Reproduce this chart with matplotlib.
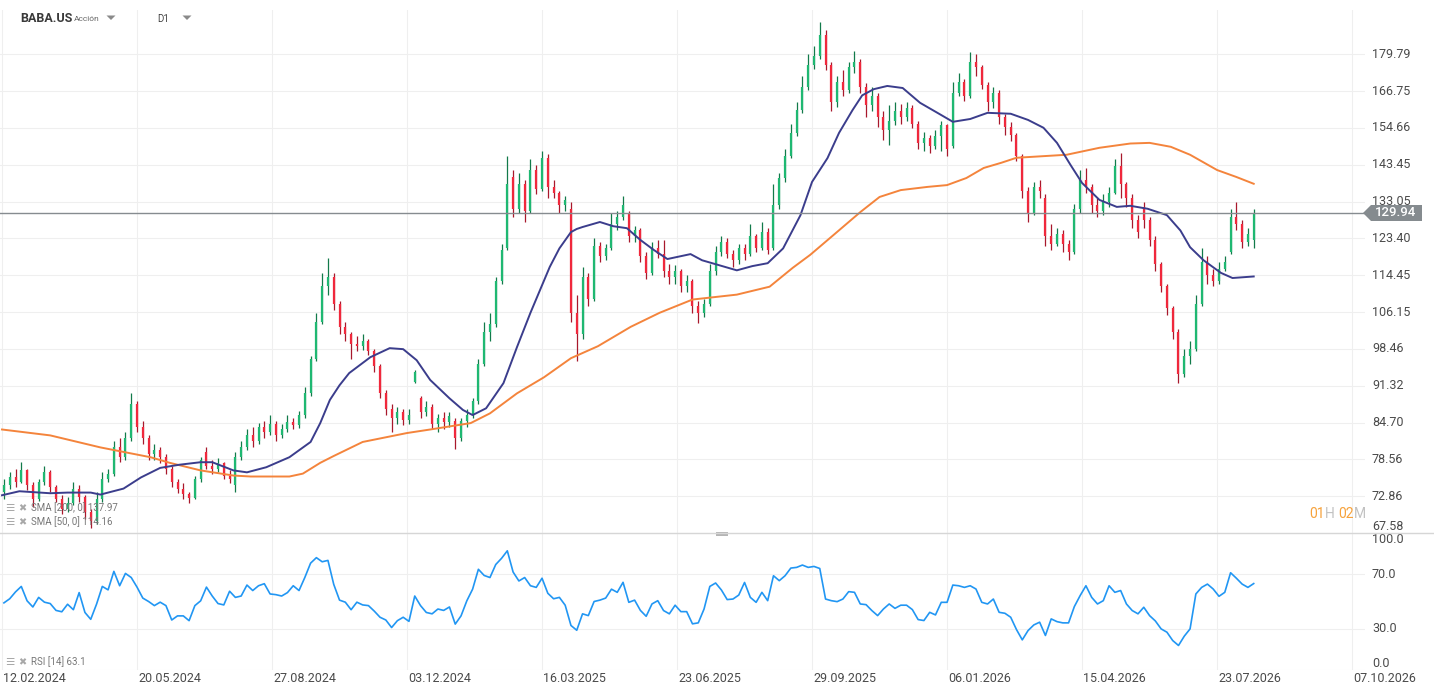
import matplotlib
matplotlib.use('Agg')
import matplotlib.pyplot as plt
import matplotlib.transforms as mtransforms
from matplotlib.patches import Polygon, Rectangle
from matplotlib.ticker import NullLocator
import numpy as np

plt.rcParams['font.family'] = ['Roboto', 'DejaVu Sans']

# candles (one per 3 trading days)
opens = [73.5, 74.5, 75.8, 75.0, 76.8, 74.5, 72.5, 75.0, 76.5, 74.2,
         72.5, 71.0, 71.8, 74.0, 72.8, 70.5, 69.2, 72.5, 75.5, 76.2,
         80.5, 79.0, 82.0, 88.0, 84.0, 82.0, 79.5, 80.0, 79.0, 77.0,
         75.0, 74.0, 73.2, 72.6, 75.5, 79.8, 77.5, 77.0, 78.0, 76.0,
         74.5, 79.0, 80.5, 82.5, 81.5, 84.0, 83.0, 84.5, 82.5, 83.5,
         84.8, 84.2, 86.0, 90.0, 96.5, 104.0, 112.0, 114.0, 108.0, 103.0,
         101.5, 99.5, 99.0, 100.0, 98.0, 95.0, 90.0, 87.0, 85.5, 86.5,
         85.2, 92.0, 89.0, 86.5, 87.5, 84.5, 85.5, 84.8, 85.0, 82.0,
         85.0, 86.0, 88.5, 95.5, 102.0, 103.5, 113.0, 121.0, 140.0, 131.0,
         138.0, 130.5, 142.0, 136.5, 145.5, 137.0, 135.5, 132.0, 131.0, 106.0,
         101.5, 114.0, 109.0, 121.5, 119.0, 121.0, 127.0, 129.0, 130.0, 124.0,
         125.5, 119.0, 115.0, 121.0, 119.5, 115.5, 114.0, 115.5, 112.0, 113.0,
         107.5, 106.0, 108.0, 115.5, 120.0, 122.5, 119.5, 118.0, 121.0, 119.5,
         124.0, 121.0, 125.0, 121.0, 132.0, 139.5, 146.0, 153.0, 160.5, 168.0,
         176.0, 179.0, 187.0, 176.0, 163.0, 170.0, 167.0, 175.0, 177.0, 168.0,
         162.0, 165.0, 158.0, 154.0, 157.0, 160.0, 158.0, 161.0, 156.0, 150.0,
         151.5, 149.0, 152.0, 155.5, 149.0, 166.0, 170.0, 165.0, 177.0, 175.0,
         169.0, 163.0, 166.0, 158.0, 155.0, 152.5, 146.0, 136.0, 130.0, 137.0,
         134.0, 124.0, 122.0, 124.5, 122.0, 120.0, 131.0, 139.0, 137.0, 132.0,
         130.5, 133.0, 135.5, 143.0, 138.0, 134.0, 128.0, 131.5, 128.0, 123.0,
         117.0, 112.0, 107.0, 102.0, 93.5, 97.0, 98.5, 108.0, 117.5, 114.5,
         113.0, 116.0, 120.0, 129.0, 127.0, 122.5, 123.0]
highs = [75.5, 76.5, 77.0, 78.2, 77.0, 75.0, 75.5, 77.5, 76.8, 74.5,
         73.0, 72.8, 75.0, 74.5, 73.0, 71.0, 73.5, 76.5, 77.0, 81.5,
         82.0, 83.0, 90.0, 88.5, 85.0, 82.5, 81.0, 80.5, 79.5, 77.5,
         75.5, 74.8, 73.5, 76.0, 79.0, 80.5, 78.5, 78.8, 78.2, 76.8,
         79.8, 81.5, 83.5, 84.0, 84.6, 85.0, 86.0, 85.0, 84.5, 86.0,
         85.5, 86.8, 91.0, 97.0, 106.0, 115.0, 118.5, 115.0, 108.5, 104.0,
         102.0, 101.0, 101.5, 100.5, 98.5, 95.5, 90.5, 88.0, 87.5, 87.0,
         87.0, 94.3, 89.5, 88.5, 88.0, 86.2, 86.5, 86.5, 85.5, 85.5,
         87.0, 89.0, 96.5, 104.0, 106.0, 114.0, 122.0, 146.0, 142.0, 141.0,
         139.0, 145.0, 143.5, 147.5, 146.5, 139.0, 136.0, 134.5, 133.0, 110.0,
         116.5, 115.0, 123.5, 122.5, 122.0, 130.0, 130.5, 134.5, 130.5, 126.5,
         126.0, 120.0, 122.5, 123.0, 123.0, 117.0, 116.8, 116.0, 114.5, 113.5,
         108.5, 109.0, 117.0, 121.5, 124.0, 123.5, 120.5, 122.0, 122.0, 127.0,
         124.5, 127.5, 126.0, 138.0, 141.0, 148.0, 156.0, 163.0, 172.0, 180.0,
         183.0, 192.0, 189.0, 177.0, 172.0, 174.0, 177.0, 181.0, 178.0, 169.5,
         168.0, 166.0, 160.0, 162.0, 163.0, 162.5, 163.0, 162.0, 157.0, 153.5,
         152.5, 154.0, 157.0, 156.0, 170.0, 173.0, 171.0, 180.5, 180.0, 176.0,
         170.0, 168.0, 167.0, 159.0, 156.5, 153.0, 146.5, 137.0, 138.5, 139.0,
         135.0, 127.0, 126.0, 125.5, 123.0, 132.5, 142.0, 142.5, 138.0, 134.0,
         135.0, 137.0, 145.0, 147.0, 138.5, 135.0, 129.5, 133.0, 129.0, 124.0,
         117.5, 112.5, 107.5, 102.5, 98.5, 100.0, 110.0, 121.0, 119.0, 116.0,
         117.5, 119.0, 131.0, 133.0, 128.0, 126.0, 131.0]
lows = [72.5, 74.0, 74.2, 74.8, 73.8, 71.2, 72.2, 74.5, 73.5, 72.0,
        70.2, 70.5, 71.5, 72.0, 69.5, 68.3, 68.8, 72.0, 75.0, 76.0,
        78.2, 78.5, 81.5, 83.0, 81.0, 78.5, 78.5, 78.0, 76.3, 74.2,
        73.3, 72.5, 71.8, 72.5, 75.0, 77.0, 76.2, 76.5, 75.5, 74.8,
        73.5, 78.5, 80.0, 80.5, 81.0, 82.0, 82.5, 81.5, 82.0, 83.0,
        83.5, 83.8, 85.5, 89.5, 96.0, 103.5, 110.0, 106.5, 101.5, 100.0,
        96.5, 98.0, 98.2, 97.3, 94.0, 89.0, 86.0, 83.0, 84.5, 84.2,
        84.5, 91.8, 85.5, 85.8, 83.5, 83.0, 83.5, 84.0, 80.3, 81.5,
        84.0, 85.5, 88.0, 95.0, 100.0, 103.0, 112.5, 120.5, 129.0, 130.0,
        127.5, 130.0, 135.0, 136.0, 134.0, 134.0, 130.0, 130.5, 104.0, 96.0,
        100.5, 107.5, 108.5, 117.5, 118.0, 120.5, 125.5, 128.0, 122.5, 122.5,
        117.5, 113.5, 114.5, 118.5, 114.0, 112.5, 112.5, 110.5, 110.5, 106.0,
        103.8, 105.0, 107.5, 114.5, 119.0, 118.5, 116.5, 117.0, 118.0, 119.0,
        120.0, 120.5, 119.5, 120.5, 131.0, 138.5, 145.5, 152.0, 159.5, 167.0,
        174.5, 178.0, 174.0, 160.0, 161.5, 165.0, 166.0, 173.0, 166.0, 158.0,
        160.0, 155.0, 151.0, 149.5, 155.5, 156.0, 157.0, 154.5, 148.0, 147.5,
        147.0, 148.0, 147.5, 146.0, 148.5, 165.0, 163.5, 164.5, 172.0, 167.5,
        160.0, 161.0, 156.0, 152.5, 150.5, 144.5, 134.0, 127.5, 129.5, 134.0,
        121.5, 120.5, 121.5, 120.0, 118.0, 119.5, 130.0, 135.5, 130.0, 129.0,
        129.5, 131.5, 135.0, 134.0, 131.5, 126.0, 123.5, 126.0, 121.5, 115.5,
        110.5, 105.5, 100.5, 91.8, 93.0, 95.5, 98.0, 107.5, 112.5, 112.0,
        112.5, 115.5, 119.5, 125.5, 121.0, 121.5, 121.0]
closes = [74.5, 75.8, 75.0, 76.8, 74.5, 72.5, 75.0, 76.5, 74.2, 72.5,
          71.0, 71.8, 74.0, 72.8, 70.5, 69.2, 72.5, 75.5, 76.2, 80.5,
          79.0, 82.0, 88.0, 84.0, 82.0, 79.5, 80.0, 79.0, 77.0, 75.0,
          74.0, 73.2, 72.6, 75.5, 78.5, 77.5, 77.0, 78.0, 76.0, 75.5,
          79.0, 80.5, 82.5, 81.5, 84.0, 83.0, 84.5, 82.5, 83.5, 84.8,
          84.2, 86.0, 90.0, 96.5, 104.0, 112.0, 114.0, 108.0, 103.0, 101.5,
          99.5, 99.0, 100.0, 98.0, 95.0, 90.0, 87.0, 85.5, 86.5, 85.2,
          86.0, 94.0, 86.5, 87.5, 84.5, 85.5, 84.8, 85.8, 82.0, 85.0,
          86.0, 88.5, 95.5, 102.0, 103.5, 113.0, 120.5, 138.0, 131.0, 138.0,
          130.5, 142.0, 136.5, 145.5, 137.0, 135.5, 132.0, 133.5, 106.0, 101.5,
          114.0, 109.0, 121.5, 119.0, 121.0, 127.0, 129.0, 132.0, 124.0, 125.5,
          119.0, 115.0, 121.0, 119.5, 115.5, 114.0, 115.5, 112.0, 113.0, 107.5,
          106.0, 108.0, 115.5, 120.0, 122.5, 119.5, 118.0, 121.0, 119.5, 124.0,
          121.0, 125.0, 120.5, 132.0, 139.5, 146.0, 153.0, 160.5, 168.0, 176.0,
          179.0, 187.0, 176.0, 163.0, 170.0, 167.0, 175.0, 177.0, 168.0, 162.0,
          165.0, 158.0, 154.0, 157.0, 160.0, 158.0, 161.0, 156.0, 150.0, 151.5,
          149.0, 152.0, 155.5, 148.0, 166.0, 170.0, 165.0, 177.0, 175.0, 169.0,
          163.0, 166.0, 158.0, 155.0, 152.5, 146.0, 136.0, 130.0, 137.0, 136.0,
          124.0, 122.0, 124.5, 122.0, 120.0, 131.0, 139.0, 137.0, 132.0, 130.5,
          133.0, 135.5, 143.0, 138.0, 134.0, 128.0, 125.0, 128.0, 123.0, 117.0,
          112.0, 107.0, 102.0, 93.5, 97.0, 98.5, 108.0, 117.5, 114.5, 113.0,
          116.0, 117.5, 129.0, 127.0, 122.5, 124.5, 129.94]

rsi = [49, 52, 57, 61, 50.5, 46, 53, 49.5, 48.5, 43.5,
       42.5, 48, 44, 56.5, 42, 37, 48, 61, 58.5, 72,
       61.5, 70.5, 67.5, 60.5, 52.5, 50, 47, 49.5, 47, 36.5,
       39.5, 39.5, 36, 47, 50.5, 60.5, 54, 48.5, 47.5, 57.5,
       53, 54, 62, 58, 61.5, 63, 55.5, 55, 54, 56.5,
       61.5, 58, 67.5, 78, 82, 79, 80, 62.5, 51, 49.5,
       44, 49.5, 47.5, 47, 43, 38.5, 36.5, 31, 36, 38.5,
       35.5, 54, 47, 42, 41, 44.5, 43.5, 46, 33.5, 39.5,
       50.5, 59, 73.5, 69, 67.5, 77, 81.5, 87, 71.5, 65,
       67.5, 61.5, 60.3, 67, 56, 52, 53, 47.3, 32.5, 29,
       41, 39.7, 50, 51, 52.5, 59, 56.7, 64, 49.4, 51,
       43.5, 39.2, 48.2, 50.6, 43.4, 41, 47.3, 42.6, 42.6, 33.7,
       34.4, 44.5, 61, 63.5, 58.4, 51.4, 51.8, 54.7, 63.9, 53,
       49.4, 56.7, 50.6, 68.8, 65.2, 68.8, 74.4, 74.9, 76.6, 74.9,
       75.6, 74.1, 51.8, 50.6, 49.9, 51.8, 57.2, 56.7, 48.2, 47.7,
       43.4, 39.7, 44.5, 48.2, 45, 47.3, 47.3, 44.1, 36.8, 36.1,
       42.1, 40.2, 49.4, 49.4, 62, 61.5, 60.3, 61.5, 59.1, 49.4,
       48.2, 51.8, 42.1, 41.4, 38.5, 29.5, 22, 28.8, 32.9, 34.9,
       25.2, 37.3, 35.3, 34.4, 34.4, 46.3, 54.3, 61.5, 53, 48.2,
       50.6, 61.5, 56.7, 58, 48.2, 43.4, 41, 45.8, 39.7, 35.8,
       30, 27.6, 21.5, 17.9, 24.7, 30, 55.5, 60.3, 62.7, 59.1,
       53.8, 56.7, 71, 67, 62.7, 60.3, 63.1]

# moving averages read at points along the curves (x in trading-day index)
sma200_bar = [0, 25, 51, 77, 87, 103, 120, 129, 149, 156,
              165, 172, 187, 210, 222, 243, 253, 267, 281, 295,
              309, 326, 341, 358, 381, 398, 410, 419, 431, 445,
              455, 466, 480, 490, 500, 509, 518, 526, 552, 569,
              585, 595, 606, 616, 630, 640, 649]
sma200_val = [83.5, 82.5, 80.5, 78.9, 78.0, 76.8, 76.0, 75.85, 75.85, 76.3,
              78.0, 79.1, 81.4, 82.9, 83.5, 84.6, 86.3, 89.9, 92.9, 96.6,
              99.0, 103.0, 106.0, 108.9, 110.0, 111.8, 116.2, 119.3, 124.2, 130.2,
              134.3, 136.2, 137.1, 137.6, 139.6, 142.5, 144.0, 145.5, 146.4, 148.5,
              149.8, 150.0, 148.8, 146.4, 141.9, 139.9, 137.97]
sma50_bar = [0, 9, 25, 34, 46, 51, 63, 72, 82, 92,
             103, 109, 120, 127, 137, 149, 160, 165, 170, 175, 180,
             191, 201, 208, 215, 222, 232, 239, 244, 251, 260,
             267, 274, 284, 289, 295, 298, 301, 310, 317, 324, 331, 338,
             345, 357, 363, 381, 389, 397, 405, 414, 420, 428, 434, 441, 446,
             452, 459, 467, 476, 485, 493, 502, 511, 523, 532,
             540, 547, 554, 560, 569, 578, 585, 594, 604, 611,
             616, 623, 632, 638, 649]
sma50_val = [73.0, 73.6, 73.3, 73.4, 73.4, 73.1, 74.0, 75.7, 77.2, 77.7,
             78.1, 78.1, 76.8, 76.5, 77.3, 78.9, 81.4, 84.6, 88.7, 91.4, 93.7,
             96.8, 98.6, 98.4, 96.2, 92.4, 89.0, 86.9, 86.0, 87.2, 91.8,
             98.8, 106.0, 116.4, 120.9, 125.0, 125.8, 126.3, 127.6, 126.5, 126.0, 123.0, 120.5,
             118.3, 119.5, 118.0, 115.6, 116.6, 117.3, 120.9, 129.4, 138.5, 145.4, 153.1, 160.4, 165.3,
             167.4, 168.5, 167.8, 162.8, 159.5, 156.6, 157.5, 159.5, 159.2, 157.2,
             154.7, 150.0, 143.4, 138.2, 133.5, 131.6, 131.9, 131.1, 129.4, 125.4,
             121.2, 118.0, 115.0, 113.8, 114.16]

price_ticks = [67.58, 72.86, 78.56, 84.70, 91.32, 98.46, 106.15, 114.45,
               123.40, 133.05, 143.45, 154.66, 166.75, 179.79]
date_labels = ['12.02.2024', '20.05.2024', '27.08.2024', '03.12.2024', '16.03.2025',
               '23.06.2025', '29.09.2025', '06.01.2026', '15.04.2026', '23.07.2026',
               '07.10.2026']
last_price = 129.94

W, H = 1434, 694
fig = plt.figure(figsize=(W / 100, H / 100), dpi=100)
fig.patch.set_facecolor('white')


def fx(px):
    return px / W


def fy(py):
    return 1 - py / H


ax = fig.add_axes([0, fy(533), fx(1365), fy(10) - fy(533)])
axr = fig.add_axes([0, fy(670), fx(1365), fy(533) - fy(670)], sharex=ax)

grid_c = '#efefef'
date_pos = np.arange(len(date_labels)) * 70

for a in (ax, axr):
    for s in a.spines.values():
        s.set_visible(False)
    a.tick_params(length=0, labelleft=False, labelbottom=False)
    a.set_xticks(date_pos)
    a.grid(True, color=grid_c, lw=0.8)
    a.set_axisbelow(True)

ax.set_xlim(-1.04, 706.7)
ax.set_yscale('log')
ax.set_ylim(67.58, 196.8)
ax.set_yticks(price_ticks)
ax.yaxis.set_minor_locator(NullLocator())

o = np.array(opens)
h = np.array(highs)
l = np.array(lows)
c = np.array(closes)
xs = np.arange(len(c)) * 3 + 1
up = c >= o
dn = ~up
ax.vlines(xs[up], l[up], h[up], color='#127a4a', lw=0.9, zorder=3)
ax.vlines(xs[up], o[up], c[up], color='#1fb872', lw=1.6, zorder=4)
ax.vlines(xs[dn], l[dn], h[dn], color='#a8182c', lw=0.9, zorder=3)
ax.vlines(xs[dn], o[dn], c[dn], color='#f0283c', lw=1.6, zorder=4)

ax.plot(sma200_bar, sma200_val, color='#f4843c', lw=1.4, zorder=5,
        solid_joinstyle='round')
ax.plot(sma50_bar, sma50_val, color='#3b3d8c', lw=1.4, zorder=5,
        solid_joinstyle='round')
ax.axhline(last_price, color='#868c90', lw=1.0, zorder=6)

axr.set_ylim(0, 100)
axr.set_yticks([0, 30, 70, 100])
axr.plot(xs, rsi, color='#2196f3', lw=1.2)

# right-hand price labels
tr = mtransforms.blended_transform_factory(fig.transFigure, ax.transData)
for p in price_ticks:
    va = 'bottom' if p == price_ticks[0] else 'center'
    ax.text(fx(1372), p, f'{p:.2f}', transform=tr, ha='left', va=va,
            fontsize=9, color='#4a4a4a', clip_on=False)

trr = mtransforms.blended_transform_factory(fig.transFigure, axr.transData)
for v, va in [(100, 'top'), (70, 'center'), (30, 'center'), (0, 'bottom')]:
    axr.text(fx(1372), v, f'{v:.1f}', transform=trr, ha='left', va=va,
             fontsize=9, color='#4a4a4a', clip_on=False)

trd = mtransforms.blended_transform_factory(axr.transData, fig.transFigure)
for pos, lab in zip(date_pos, date_labels):
    axr.text(pos + 0.6, fy(678), lab, transform=trd, ha='left', va='center',
             fontsize=9, color='#4a4a4a', clip_on=False)

# last price tag
yl = 213
tag = [(1363, yl), (1371, yl - 8), (1422, yl - 8), (1422, yl + 8), (1371, yl + 8)]
fig.patches.append(Polygon([(fx(a), fy(b)) for a, b in tag], closed=True,
                           transform=fig.transFigure, facecolor='#858b8f',
                           edgecolor='none'))
fig.text(fx(1396), fy(yl), f'{last_price:.2f}', ha='center', va='center',
         fontsize=9.5, color='white', fontweight='medium')

# panel separator
fig.add_artist(plt.Line2D([0, 1], [fy(533), fy(533)], transform=fig.transFigure,
                          color='#d6d6d6', lw=1.0))
fig.patches.append(Rectangle((fx(716), fy(535.5)), fx(12), fy(532) - fy(535.5),
                             transform=fig.transFigure, facecolor='#b5b5b5',
                             edgecolor='none'))

# header
fig.text(fx(20), fy(18), 'BABA.US', ha='left', va='center', fontsize=9,
         fontweight='bold', color='#3a3a3a')
fig.text(fx(74), fy(19), 'Acción', ha='left', va='center', fontsize=6,
         color='#666666')
fig.text(fx(157), fy(19), 'D1', ha='left', va='center', fontsize=7,
         color='#444444')
for tx in (111, 187):
    tri = [(tx - 4.5, 15.5), (tx + 4.5, 15.5), (tx, 20)]
    fig.patches.append(Polygon([(fx(a), fy(b)) for a, b in tri], closed=True,
                               transform=fig.transFigure, facecolor='#8a8a8a',
                               edgecolor='none'))

# indicator legends
for yy, lab in [(508, 'SMA [200, 0] 137.97'), (522, 'SMA [50, 0] 114.16'),
                (662, 'RSI [14] 63.1')]:
    fig.text(fx(5), fy(yy), '☰', ha='left', va='center', fontsize=7.5,
             color='#a8a8a8', family=['DejaVu Sans'])
    fig.text(fx(18), fy(yy), '✖', ha='left', va='center', fontsize=7,
             color='#a8a8a8', family=['DejaVu Sans'])
    fig.text(fx(31), fy(yy), lab, ha='left', va='center', fontsize=7,
             color='#777777')

# countdown
for xx, s, col in [(1309, '01', '#f7a23b'), (1325, 'H', '#c2c2c2'),
                   (1338, '02', '#f7a23b'), (1354, 'M', '#c2c2c2')]:
    fig.text(fx(xx), fy(514), s, ha='left', va='center', fontsize=10,
             color=col)

fig.savefig('out.png', dpi=100, facecolor='white')
